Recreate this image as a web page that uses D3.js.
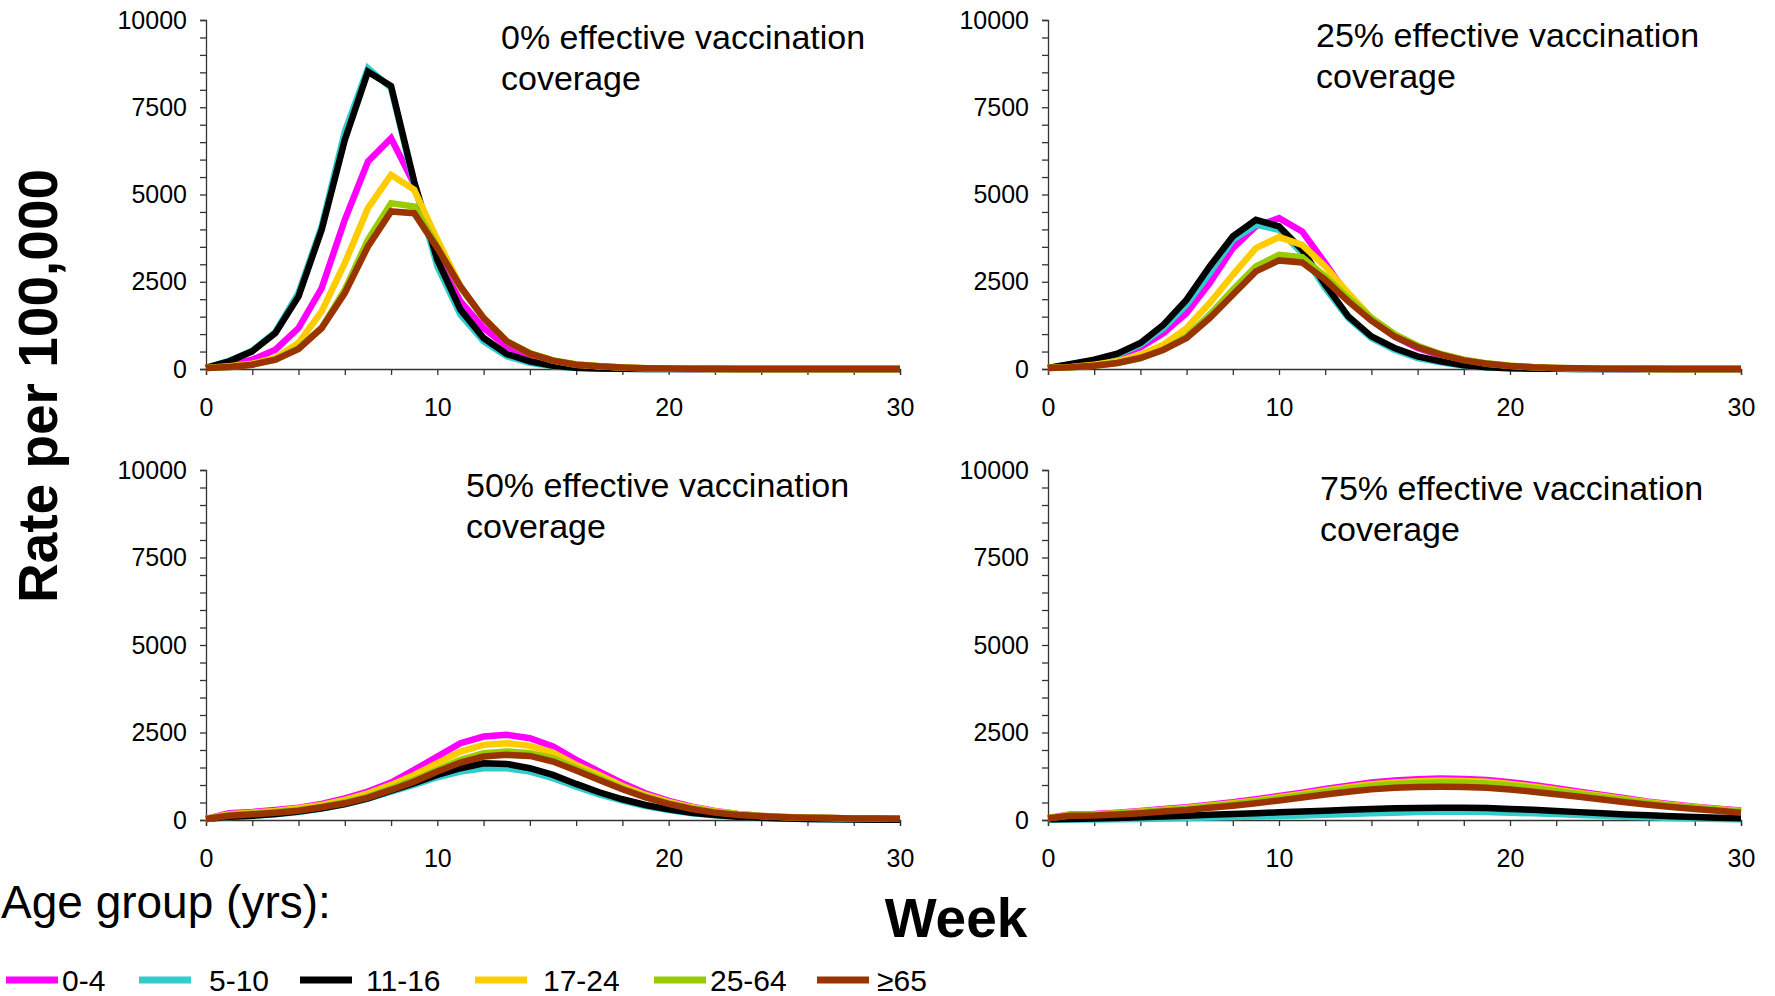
<!DOCTYPE html>
<html>
<head>
<meta charset="utf-8">
<script src="https://cdn.jsdelivr.net/npm/d3@7"></script>
<style>
  body { margin: 0; background: #fff; }
  svg { display: block; font-family: "Liberation Sans", Arial, sans-serif; }
</style>
</head>
<body>
<div id="chart-area"></div>
<script>
// weeks on the x axis
const weeks = [0,1,2,3,4,5,6,7,8,9,10,11,12,13,14,15,16,17,18,19,20,21,22,23,24,25,26,27,28,29,30];

const ageGroups = ['0-4', '5-10', '11-16', '17-24', '25-64', '≥65'];
const groupColors = ['#ff00ff', '#33cccc', '#000000', '#ffcc00', '#99cc00', '#993300'];

const panelTitles = ['0% effective vaccination', '25% effective vaccination', '50% effective vaccination', '75% effective vaccination'];

const yTicks = [0, 2500, 5000, 7500, 10000];
const xTicks = [0, 10, 20, 30];

// rate per 100,000, one row per age group
const cov0 = [
    [30,105,267,553,1174,2319,4275,5945,6613,5300,3200,1937,1174,649,334,172,76,30,15,8,5,3,2,1,1,0,0,0,0,0,0],
    [30,230,520,1060,2180,4090,6800,8620,8050,5300,2940,1555,792,363,180,80,30,10,5,2,1,0,0,0,0,0,0,0,0,0,0],
    [30,220,506,1030,2080,3990,6565,8520,8110,5370,3130,1700,887,430,220,95,38,12,5,2,1,0,0,0,0,0,0,0,0,0,0],
    [30,76,153,315,744,1651,3034,4609,5563,5134,3702,2366,1460,792,439,239,124,76,40,20,10,5,3,2,1,1,0,0,0,0,0],
    [30,57,124,267,601,1174,2271,3702,4752,4656,3511,2319,1460,792,458,248,134,76,40,20,10,5,3,2,1,1,0,0,0,0,0],
    [30,57,124,267,573,1174,2176,3511,4513,4466,3464,2366,1460,792,439,239,124,76,45,25,15,8,5,3,2,1,1,0,0,0,0]
];

const cov25 = [
    [30,105,220,382,620,1031,1603,2462,3464,4084,4323,3941,3034,2080,1412,935,601,382,220,124,67,35,15,8,5,3,2,1,1,0,0],
    [30,134,248,410,697,1174,1842,2748,3702,4132,3989,3321,2319,1460,887,553,315,191,95,40,20,10,5,2,1,0,0,0,0,0,0],
    [30,143,267,439,744,1269,1985,2939,3798,4275,4084,3416,2414,1508,935,601,363,220,105,48,20,10,5,2,1,0,0,0,0,0,0],
    [30,57,124,220,410,697,1174,1889,2700,3464,3779,3559,2939,2176,1460,983,649,410,267,153,95,50,30,15,8,5,3,2,1,1,0],
    [30,48,95,172,315,553,935,1555,2271,2939,3273,3206,2653,2032,1460,1002,668,429,267,162,95,55,30,15,8,5,3,2,1,1,0],
    [30,48,95,172,315,553,887,1460,2128,2796,3111,3053,2557,1937,1384,935,630,410,248,153,86,50,30,20,10,6,4,2,1,1,0]
];

const cov50 = [
    [30,191,229,286,353,458,620,811,1069,1431,1813,2195,2385,2433,2338,2099,1718,1384,1050,763,544,382,258,172,115,86,67,55,45,40,35],
    [30,86,115,162,229,324,448,611,811,1002,1221,1384,1479,1479,1384,1193,954,735,553,401,286,191,134,95,67,45,30,20,15,10,8],
    [30,95,124,172,239,334,458,620,840,1050,1288,1479,1622,1603,1479,1288,1031,792,592,429,305,210,143,95,67,45,30,20,15,10,8],
    [30,162,210,258,334,429,573,763,1002,1288,1622,1956,2147,2195,2118,1927,1575,1288,973,716,515,363,248,172,115,86,67,55,45,40,35],
    [30,143,181,229,286,382,506,668,907,1145,1431,1718,1908,1956,1908,1765,1479,1193,907,668,477,334,229,162,115,86,67,55,45,40,35],
    [30,124,162,210,267,363,477,639,859,1097,1384,1641,1813,1861,1832,1670,1412,1145,878,649,458,315,210,143,105,80,65,55,45,40,35]
];

const cov75 = [
    [48,162,172,210,258,315,363,439,506,592,687,782,887,983,1069,1126,1164,1183,1174,1145,1078,1002,907,811,716,620,525,448,380,320,270],
    [10,12,15,22,30,42,55,70,85,100,115,132,150,170,190,210,225,235,235,230,210,190,170,145,120,95,75,55,40,28,20],
    [20,30,40,55,76,100,124,150,172,195,220,245,267,290,315,335,343,353,350,343,315,290,258,225,191,160,134,110,86,65,48],
    [48,150,160,195,240,295,340,415,480,560,650,745,845,940,1020,1075,1110,1125,1115,1090,1030,955,865,775,685,595,505,430,365,305,255],
    [48,140,150,185,228,280,325,395,455,535,620,710,805,895,975,1030,1060,1075,1068,1040,985,915,830,745,660,575,490,418,355,298,245],
    [48,118,128,158,195,243,288,350,408,480,558,640,728,810,875,920,945,952,945,920,872,810,738,662,585,508,436,372,315,262,210]
];

const panelData = [cov0, cov25, cov50, cov75];

// layout (pixels)
const W = 1775, H = 996;
const panelBoxes = [
    { x0: 206, x1: 900, y0: 369, y1: 20, tx: 501, ty: 49 },
    { x0: 1048, x1: 1741, y0: 369, y1: 20, tx: 1316, ty: 47 },
    { x0: 206, x1: 900, y0: 820, y1: 470, tx: 466, ty: 497 },
    { x0: 1048, x1: 1741, y0: 820, y1: 470, tx: 1320, ty: 500 }
];
const legendX = [6, 139, 300, 475, 654, 817];
const legendTextX = [62, 209, 366, 543, 710, 877];
const legendY = 980;

const svg = d3.select('#chart-area')
    .append('svg')
    .attr('width', W)
    .attr('height', H);

function drawPanel(box, data, title) {
    const x = d3.scaleLinear().domain([0, 30]).range([box.x0, box.x1]);
    const y = d3.scaleLinear().domain([0, 10000]).range([box.y0, box.y1]);

    const g = svg.append('g');

    const yAxis = d3.axisLeft(y)
        .tickValues(d3.range(0, 10001, 500))
        .tickSize(6)
        .tickPadding(13)
        .tickFormat((d) => (yTicks.includes(d) ? d : ''));
    const yG = g.append('g')
        .attr('transform', `translate(${box.x0},0)`)
        .call(yAxis);

    const xAxis = d3.axisBottom(x)
        .tickValues(d3.range(0, 31, 2))
        .tickSize(6)
        .tickPadding(23)
        .tickFormat((d) => (xTicks.includes(d) ? d : ''));
    const xG = g.append('g')
        .attr('transform', `translate(0,${box.y0})`)
        .call(xAxis);

    [yG, xG].forEach((a) => {
        a.select('.domain').attr('stroke', '#333').attr('stroke-width', 1.3);
        a.selectAll('.tick line').attr('stroke', '#333').attr('stroke-width', 1.3);
        a.selectAll('.tick text')
            .attr('fill', '#000')
            .style('font-size', '25px')
            .style('font-family', '"Liberation Sans", Arial, sans-serif');
    });

    const line = d3.line()
        .x((d, i) => x(weeks[i]))
        .y((d) => y(d));

    g.selectAll('path.series')
        .data(data)
        .enter()
        .append('path')
        .attr('class', 'series')
        .attr('d', line)
        .attr('fill', 'none')
        .attr('stroke', (d, i) => groupColors[i])
        .attr('stroke-width', 6.5)
        .attr('stroke-linejoin', 'miter');

    const t = g.append('text')
        .attr('x', box.tx)
        .attr('y', box.ty)
        .style('font-size', '34px')
        .attr('fill', '#000');
    t.append('tspan').attr('x', box.tx).text(title);
    t.append('tspan').attr('x', box.tx).attr('dy', 41).text('coverage');
}

panelBoxes.forEach((box, i) => drawPanel(box, panelData[i], panelTitles[i]));

// axis titles
svg.append('text')
    .attr('transform', 'translate(57,386) rotate(-90)')
    .attr('text-anchor', 'middle')
    .style('font-size', '55px')
    .style('font-weight', 'bold')
    .text('Rate per 100,000');

svg.append('text')
    .attr('x', 956)
    .attr('y', 937)
    .attr('text-anchor', 'middle')
    .style('font-size', '55px')
    .style('font-weight', 'bold')
    .text('Week');

svg.append('text')
    .attr('x', 1)
    .attr('y', 918)
    .style('font-size', '46px')
    .text('Age group (yrs):');

// legend
const legend = svg.selectAll('g.legend')
    .data(ageGroups)
    .enter()
    .append('g')
    .attr('class', 'legend');

legend.append('line')
    .attr('x1', (d, i) => legendX[i])
    .attr('x2', (d, i) => legendX[i] + 52)
    .attr('y1', legendY)
    .attr('y2', legendY)
    .attr('stroke', (d, i) => groupColors[i])
    .attr('stroke-width', 7);

legend.append('text')
    .attr('x', (d, i) => legendTextX[i])
    .attr('y', legendY + 11)
    .style('font-size', '30px')
    .text((d) => d);
</script>
</body>
</html>
